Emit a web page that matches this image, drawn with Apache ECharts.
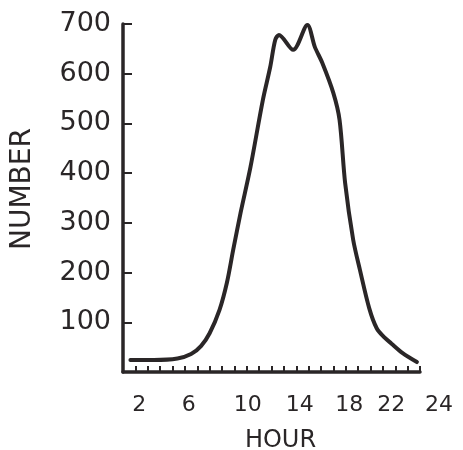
<!DOCTYPE html>
<html>
<head>
<meta charset="utf-8">
<script src="https://cdn.jsdelivr.net/npm/echarts@6/dist/echarts.min.js"></script>
<style>html,body{margin:0;padding:0;background:#fff}#c{width:463px;height:450px}</style>
</head>
<body>
<div id="c"></div>
<script>
// hour of day
const hours = [0.6, 2.5, 4.4, 5.5, 6.3, 7.0, 7.8, 8.4, 8.9, 9.5, 10.3, 11.3, 11.9, 12.3, 12.6, 13.75, 14.9, 15.5, 16.1, 17.0, 17.5, 17.95, 18.6, 19.15, 19.9, 20.5, 21.1, 21.7, 22.6, 23.75];
// number
const numbers = [24, 24, 27, 36, 52, 78, 125, 180, 245, 320, 412, 547, 614, 668, 678, 648, 698, 654, 622, 561, 507, 380, 266, 205, 128, 88, 70, 57, 38, 20];
const xTickLabels = [2, 6, 10, 14, 18, 22, 24];
const yTickLabels = [100, 200, 300, 400, 500, 600, 700];

const ink = '#2a2627';
const font = 'DejaVu Sans';
const labelShift = {2: 'a', 6: 'a', 10: 'b', 14: 'c', 18: 'c', 22: 'd', 24: 'e'};
const xs = 22;

const chart = echarts.init(document.getElementById('c'), null, {renderer: 'canvas'});
chart.setOption({
  animation: false,
  backgroundColor: '#ffffff',
  grid: {left: 123, top: 24, right: 43, bottom: 78, containLabel: false, outerBoundsMode: 'none'},
  xAxis: {
    type: 'value', min: 0, max: 24, interval: 1,
    name: 'HOUR', nameLocation: 'middle', nameGap: 57,
    nameTextStyle: {fontFamily: font, fontSize: 24, color: ink, padding: [0, 0, 0, 18]},
    axisLine: {show: true, onZero: false, lineStyle: {color: ink, width: 3.5}},
    axisTick: {show: true, inside: true, length: 6, lineStyle: {color: ink, width: 2}},
    splitLine: {show: false},
    axisLabel: {
      margin: 22, color: ink, fontFamily: font, fontSize: xs,
      showMinLabel: true, showMaxLabel: true,
      formatter: function (v) {
        if (xTickLabels.indexOf(v) < 0) return '';
        return '{' + labelShift[v] + '|' + v + '}';
      },
      rich: {
        a: {fontFamily: font, fontSize: xs, color: ink, padding: [0, 17, 0, 0]},
        b: {fontFamily: font, fontSize: xs, color: ink, padding: [0, 0, 0, 2]},
        c: {fontFamily: font, fontSize: xs, color: ink, padding: [0, 0, 0, 7]},
        d: {fontFamily: font, fontSize: xs, color: ink, padding: [0, 8, 0, 0]},
        e: {fontFamily: font, fontSize: xs, color: ink, padding: [0, 0, 0, 38]}
      }
    }
  },
  yAxis: {
    type: 'value', min: 0, max: 700, interval: 100,
    name: 'NUMBER', nameLocation: 'middle', nameRotate: 90, nameGap: 86,
    nameTextStyle: {fontFamily: font, fontSize: 28, color: ink, padding: [0, 0, 0, 18]},
    axisLine: {show: true, lineStyle: {color: ink, width: 3.5}},
    axisTick: {show: true, inside: true, length: 9, lineStyle: {color: ink, width: 2}},
    splitLine: {show: false},
    axisLabel: {
      margin: 12, color: ink, fontFamily: font, fontSize: 27,
      showMinLabel: false,
      formatter: function (v) { return yTickLabels.indexOf(v) >= 0 ? String(v) : ''; }
    }
  },
  series: [{
    type: 'line',
    data: hours.map((h, i) => [h, numbers[i]]),
    smooth: 0.3,
    showSymbol: false,
    lineStyle: {color: ink, width: 4, cap: 'round', join: 'round'}
  }]
});
</script>
</body>
</html>
